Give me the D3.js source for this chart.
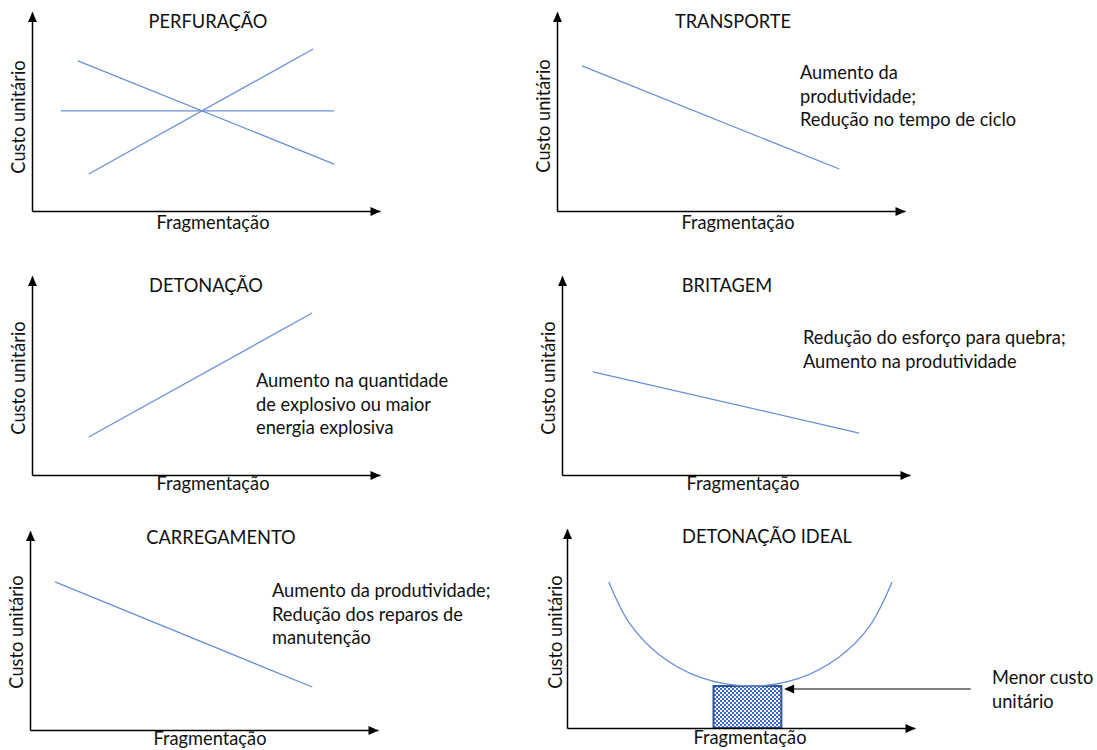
<!DOCTYPE html>
<html><head><meta charset="utf-8">
<script src="https://cdn.jsdelivr.net/npm/d3@7"></script>
<style>
body{margin:0;background:#fff}
text{font-family:Lato,"Open Sans",sans-serif;fill:#111}
</style>
</head><body>
<svg id="c" width="1097" height="750"></svg>
<script>
// ---------- data (x, y in % of each axis length) ----------
const titles = ["PERFURAÇÃO","TRANSPORTE","DETONAÇÃO","BRITAGEM","CARREGAMENTO","DETONAÇÃO IDEAL"];
const xLabel = "Fragmentação";
const yLabel = "Custo unitário";
const perfuracaoLines = [
  [[13.2,75.4],[86.8,23.6]],
  [[16.3,18.6],[80.8,81.4]],
  [[8.3,50.3],[86.8,50.3]]
];
const transporteLine = [[7.2,72.9],[81.1,21.1]];
const detonacaoLine = [[16.3,19.1],[80.5,81.4]];
const britagemLine = [[8.9,51.8],[85.4,21.1]];
const carregamentoLine = [[7.2,74.4],[81.1,21.6]];
const idealCurve = [[12.0,73.4],[18.1,52.3],[26.6,36.7],[38.1,25.6],[52.7,21.1],[66.8,25.1],[78.2,35.7],[86.8,50.8],[93.4,73.4]];
const idealZoneX = [42.1,61.6];
const idealZoneY = [0,21.1];
const idealArrowX = [116,62.4];
const idealArrowY = 19.6;
const notes = [
  [],
  ["Aumento da","produtividade;","Redução no tempo de ciclo"],
  ["Aumento na quantidade","de explosivo ou maior","energia explosiva"],
  ["Redução do esforço para quebra;","Aumento na produtividade"],
  ["Aumento da produtividade;","Redução dos reparos de","manutenção"],
  ["Menor custo","unitário"]
];
const series = [perfuracaoLines,[transporteLine],[detonacaoLine],[britagemLine],[carregamentoLine],[idealCurve]];

// ---------- layout ----------
const W = 348, H = 199;
const layout = [
  {ox:32,  oy:211, title:[208,28],  xl:[213,229], yl:[25,117],  note:null},
  {ox:557, oy:211, title:[733,28],  xl:[738,229], yl:[550,116], note:[800,79]},
  {ox:32,  oy:475, title:[206,292], xl:[213,490], yl:[25,378],  note:[256,387]},
  {ox:562, oy:475, title:[727,292], xl:[743,490], yl:[555,378], note:[803,344]},
  {ox:30,  oy:730, title:[221,544], xl:[210,745], yl:[23,632],  note:[272,597]},
  {ox:567, oy:728, title:[767,543], xl:[750,744], yl:[562,632], note:[992,684]}
];
const lineGap = 23.5;
const lineColor = "#6a8fd6";

const svg = d3.select("#c");
svg.append("rect").attr("width",1097).attr("height",750).attr("fill","#fff");

const probe = svg.append("text").style("font-size","20px").text(xLabel);
const fs = 20*113/probe.node().getComputedTextLength();
probe.remove();

const defs = svg.append("defs");
const pat = defs.append("pattern").attr("id","chk").attr("width",4).attr("height",4)
  .attr("patternUnits","userSpaceOnUse");
pat.append("rect").attr("width",4).attr("height",4).attr("fill","#fff");
pat.append("rect").attr("width",2).attr("height",2).attr("fill","#3a67c8");
pat.append("rect").attr("x",2).attr("y",2).attr("width",2).attr("height",2).attr("fill","#3a67c8");

layout.forEach((L,i)=>{
  const x = d3.scaleLinear().domain([0,100]).range([L.ox, L.ox+W]);
  const y = d3.scaleLinear().domain([0,100]).range([L.oy, L.oy-H]);
  const g = svg.append("g");

  if(i===5){
    g.append("rect")
      .attr("x",x(idealZoneX[0])).attr("y",y(idealZoneY[1]))
      .attr("width",x(idealZoneX[1])-x(idealZoneX[0]))
      .attr("height",y(idealZoneY[0])-y(idealZoneY[1]))
      .attr("fill","url(#chk)").attr("stroke","#2f5597").attr("stroke-width",2);
  }

  const line = d3.line().x(d=>x(d[0])).y(d=>y(d[1]))
    .curve(i===5 ? d3.curveCatmullRom : d3.curveLinear);
  series[i].forEach(s=>{
    g.append("path").attr("d",line(s)).attr("fill","none")
      .attr("stroke",lineColor).attr("stroke-width",1.3);
  });

  const ax = g.append("g").attr("transform",`translate(0,${L.oy})`)
    .call(d3.axisBottom(x).tickValues([]).tickSizeOuter(0));
  ax.select(".domain").attr("stroke","#000").attr("stroke-width",1.5);
  const ay = g.append("g").attr("transform",`translate(${L.ox},0)`)
    .call(d3.axisLeft(y).tickValues([]).tickSizeOuter(0));
  ay.select(".domain").attr("stroke","#000").attr("stroke-width",1.5);

  g.append("path").attr("d","M0,0L-10,-4.5L-10,4.5Z")
    .attr("transform",`translate(${x(100)+0.5},${y(0)+0.5})`).attr("fill","#000");
  g.append("path").attr("d","M0,0L-4.5,10L4.5,10Z")
    .attr("transform",`translate(${x(0)+0.5},${y(100)})`).attr("fill","#000");

  if(i===5){
    g.append("line").attr("x1",x(idealArrowX[0])).attr("x2",x(idealArrowX[1])+9)
      .attr("y1",y(idealArrowY)).attr("y2",y(idealArrowY))
      .attr("stroke","#000").attr("stroke-width",1.2);
    g.append("path").attr("d","M0,0L10,-4.5L10,4.5Z")
      .attr("transform",`translate(${x(idealArrowX[1])},${y(idealArrowY)})`).attr("fill","#000");
  }

  g.append("text").attr("x",L.title[0]).attr("y",L.title[1])
    .attr("text-anchor","middle").style("font-size",fs+"px").text(titles[i]);
  g.append("text").attr("x",L.xl[0]).attr("y",L.xl[1])
    .attr("text-anchor","middle").style("font-size",fs+"px").text(xLabel);
  g.append("text").attr("transform",`translate(${L.yl[0]},${L.yl[1]}) rotate(-90)`)
    .attr("text-anchor","middle").style("font-size",fs+"px").text(yLabel);

  if(L.note){
    notes[i].forEach((t,k)=>{
      g.append("text").attr("x",L.note[0]).attr("y",L.note[1]+k*lineGap)
        .style("font-size",fs+"px").text(t);
    });
  }
});
</script>
</body></html>
